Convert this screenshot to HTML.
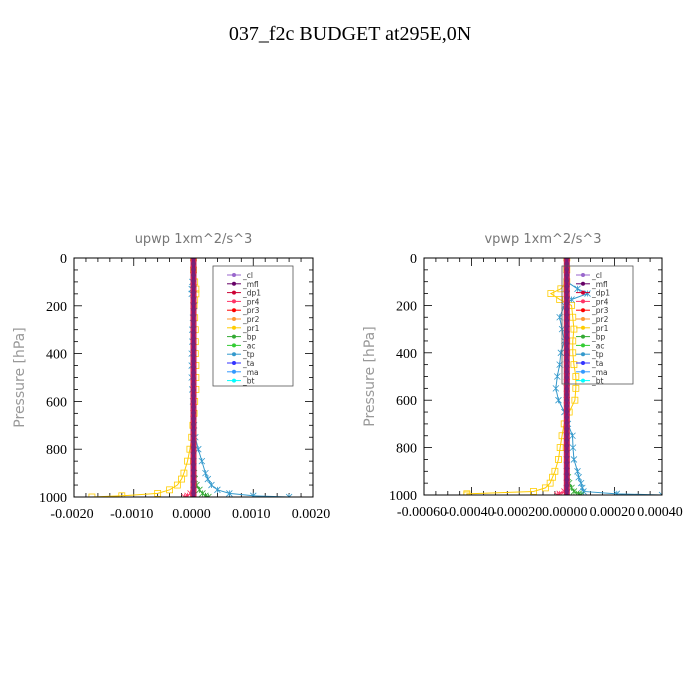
<!DOCTYPE html>
<html><head><meta charset="utf-8"><style>
body{margin:0;background:#fff;width:700px;height:700px;overflow:hidden}
svg{display:block}
</style></head><body>
<svg id="c" width="700" height="700" xmlns="http://www.w3.org/2000/svg">
<text x="350" y="40" text-anchor="middle" font-family="Liberation Serif, serif" font-size="20" fill="#000">037_f2c  BUDGET at295E,0N</text>
</svg>
<script>
const levels=[0,50,100,130,150,175,200,250,300,350,400,450,500,550,600,650,700,750,800,850,900,925,950,970,985,995,1000];
// left panel upwp (units 1e-4)
const leftPr1=[0,0,0.2,0.4,0.4,0.2,0.1,0.2,0.3,0.3,0.3,0.4,0.4,0.4,0.2,0.1,-0.1,-0.3,-0.6,-1.0,-1.6,-2.0,-2.7,-4,-6,-12,-17];
const leftTp=[0,0,-0.2,-0.3,-0.3,0,0.1,-0.1,-0.2,-0.2,-0.3,-0.3,-0.3,-0.2,-0.1,0,0.1,0.3,0.8,1.4,2.0,2.4,3,4,6,10,16];
const leftBp=[0,0,0,0,0,0,0,0,0,0,0,0,0,0,0,0,0,0,0,0,0.1,0.2,0.5,1,1.5,2,2.5];
const leftDp1=[0,0,0,0,0,0,0,0,0,0,0,0,0,0,0,0,0,0,0,0,0,0,0,0,-0.5,-1,-1.5];
// right panel vpwp (units 1e-5)
const rightPr1=[0,0,0,-2.5,-6.7,-3,2,2.5,3,2.5,2.5,3,3.8,3.8,3.4,1,-1.1,-2,-2.8,-3.5,-5,-6,-7,-9,-14,-42,-42];
const rightTp=[0,0,0,4.5,8.7,2,-1,-3,-2,-1,-2.5,-3,-4,-4.6,-3.5,-1,0.5,2.4,2.6,3,4.5,5,6,6.5,7,21,40];
const rightBp=[0,0,0,0,0,0,0,0,0,0,0,0,0,0,0,0,0,0,0,0,0,0.5,1,2,3,5,6];
const rightDp1=[0,0,0,0,0,0,0,0,0,0,0,0,0,0,0,0,0,0,0,0,0,0,0,0,-1,-3,-4];
const legendNames=["_cl","_mfl","_dp1","_pr4","_pr3","_pr2","_pr1","_bp","_ac","_tp","_ta","_ma","_bt"];
const legendColors=["#9966cc","#660066","#cc0033","#ff3366","#ff0000","#ff9933","#ffcc00","#33aa33","#33cc33","#3399cc","#3333ff","#3399ff","#00ffff"];
const leftTicks=["-0.0020","-0.0010","0.0000","0.0010","0.0020"];
const rightTicks=["-0.00060","-0.00040","-0.00020","0.00000","0.00020","0.00040"];
const yTicks=["0","200","400","600","800","1000"];

const svg=document.getElementById('c');
const NS="http://www.w3.org/2000/svg";
function mk(tag,attrs,parent){const e=document.createElementNS(NS,tag);for(const k in attrs)e.setAttribute(k,attrs[k]);(parent||svg).appendChild(e);return e;}

function panel(opt){
  const g=mk('g',{});
  
  
  const L=opt.x0,R=opt.x1,T=258,B=opt.b;
  const xs=v=>L+(v-opt.min)/(opt.max-opt.min)*(R-L);
  const ys=p=>T+p/1000*(B-T);
  const tt=mk('text',{x:(L+R)/2,y:243,'text-anchor':'middle','font-family':'DejaVu Sans, sans-serif','font-size':13,fill:'#777'},g);
  tt.textContent=opt.title;
  
  
  const yt=mk('text',{x:0,y:0,'text-anchor':'middle','font-family':'DejaVu Sans, sans-serif','font-size':14,fill:'#999',transform:`translate(${L-50},${(T+B)/2}) rotate(-90)`},g);
  yt.textContent="Pressure [hPa]";
  
  
  // minor ticks
  for(let p=50;p<1000;p+=50){const y=ys(p);const len=p%200===0?8:4;
    mk('line',{x1:L,x2:L+len,y1:y,y2:y,stroke:'#000','stroke-width':0.8},g);
    mk('line',{x1:R,x2:R-len,y1:y,y2:y,stroke:'#000','stroke-width':0.8},g);}
  for(let v=opt.min;v<=opt.max+1e-9;v+=opt.minor){const x=xs(v);const major=Math.abs(v/opt.major-Math.round(v/opt.major))<1e-6;const len=major?8:4;
    mk('line',{x1:x,x2:x,y1:B,y2:B-len,stroke:'#000','stroke-width':0.8},g);
    mk('line',{x1:x,x2:x,y1:T,y2:T+len,stroke:'#000','stroke-width':0.8},g);}
  yTicks.forEach((t,i)=>{const e=mk('text',{x:L-7,y:ys(+t)+5,'text-anchor':'end','font-family':'Liberation Serif, serif','font-size':14},g);e.textContent=t;
    });
  opt.ticks.forEach(t=>{const e=mk('text',{x:xs(+t*opt.scale)-2,y:B+21,'text-anchor':'middle','font-family':'Liberation Serif, serif','font-size':14},g);e.textContent=t;
    });
  const clip='cl'+opt.name;
  const cp=mk('clipPath',{id:clip},g);mk('rect',{x:L,y:T,width:R-L,height:B-T},cp);
  const sg=mk('g',{'clip-path':`url(#${clip})`},g);
  function series(vals,col,marker,nm,w){
    const pts=vals.map((v,i)=>[xs(v),ys(levels[i])]);
    const pl=mk('polyline',{points:pts.map(p=>p.join(',')).join(' '),fill:'none',stroke:col,'stroke-width':w||1},sg);
    
    pts.forEach(p=>{if(marker==='sq')mk('rect',{x:p[0]-3,y:p[1]-3,width:6,height:6,fill:'none',stroke:col,'stroke-width':0.8},sg);
      else mk('path',{d:`M${p[0]-3},${p[1]-3}L${p[0]+3},${p[1]+3}M${p[0]+3},${p[1]-3}L${p[0]-3},${p[1]+3}M${p[0]},${p[1]-3}V${p[1]+3}`,stroke:col,'stroke-width':0.8},sg);});
  }
  series(opt.pr1,'#ffcc00','sq',opt.name+'-pr1');
  series(opt.tp,'#3399cc','x',opt.name+'-tp');
  series(opt.bp,'#33aa33','x',opt.name+'-bp');
  series(opt.dp1,'#ff3366','x',opt.name+'-dp1');
  // thick near-zero purple bundle
  const z=xs(0);
  mk('rect',{x:z-3,y:T,width:6,height:B-T,fill:'#cc2255'},sg);
  mk('rect',{x:z-1.5,y:T,width:3,height:B-T,fill:'#7a1a7a'},sg);
  for(let p=0;p<=1000;p+=24){mk('circle',{cx:z,cy:ys(p),r:2.2,fill:'#772277'},sg);}
  mk('rect',{x:L,y:T,width:R-L,height:B-T,fill:'none',stroke:'#000','stroke-width':1},g);
  // legend
  const lg=mk('g',{},g);
  
  mk('rect',{x:opt.lx,y:266,width:opt.lw,height:opt.lh,fill:'none',stroke:'#555','stroke-width':0.8},lg);
  legendNames.forEach((n,i)=>{const y=275+i*8.8;
    mk('line',{x1:opt.lx+14,x2:opt.lx+28,y1:y,y2:y,stroke:legendColors[i],'stroke-width':1},lg);
    mk('circle',{cx:opt.lx+21,cy:y,r:2,fill:legendColors[i]},lg);
    const e=mk('text',{x:opt.lx+30,y:y+3,'font-family':'DejaVu Sans, sans-serif','font-size':7.5,fill:'#333'},lg);e.textContent=n;
    });
}
panel({name:'upwp-panel',title:'upwp   1xm^2/s^3',x0:74,x1:313,b:497,min:-20,max:20,minor:2,major:10,scale:1e4,ticks:leftTicks,
  pr1:leftPr1,tp:leftTp,bp:leftBp,dp1:leftDp1,lx:213,lw:80,lh:120});
panel({name:'vpwp-panel',title:'vpwp   1xm^2/s^3',x0:424,x1:662,b:495,min:-60,max:40,minor:5,major:20,scale:1e5,ticks:rightTicks,
  pr1:rightPr1,tp:rightTp,bp:rightBp,dp1:rightDp1,lx:562,lw:71,lh:118});
</script>
</body></html>
